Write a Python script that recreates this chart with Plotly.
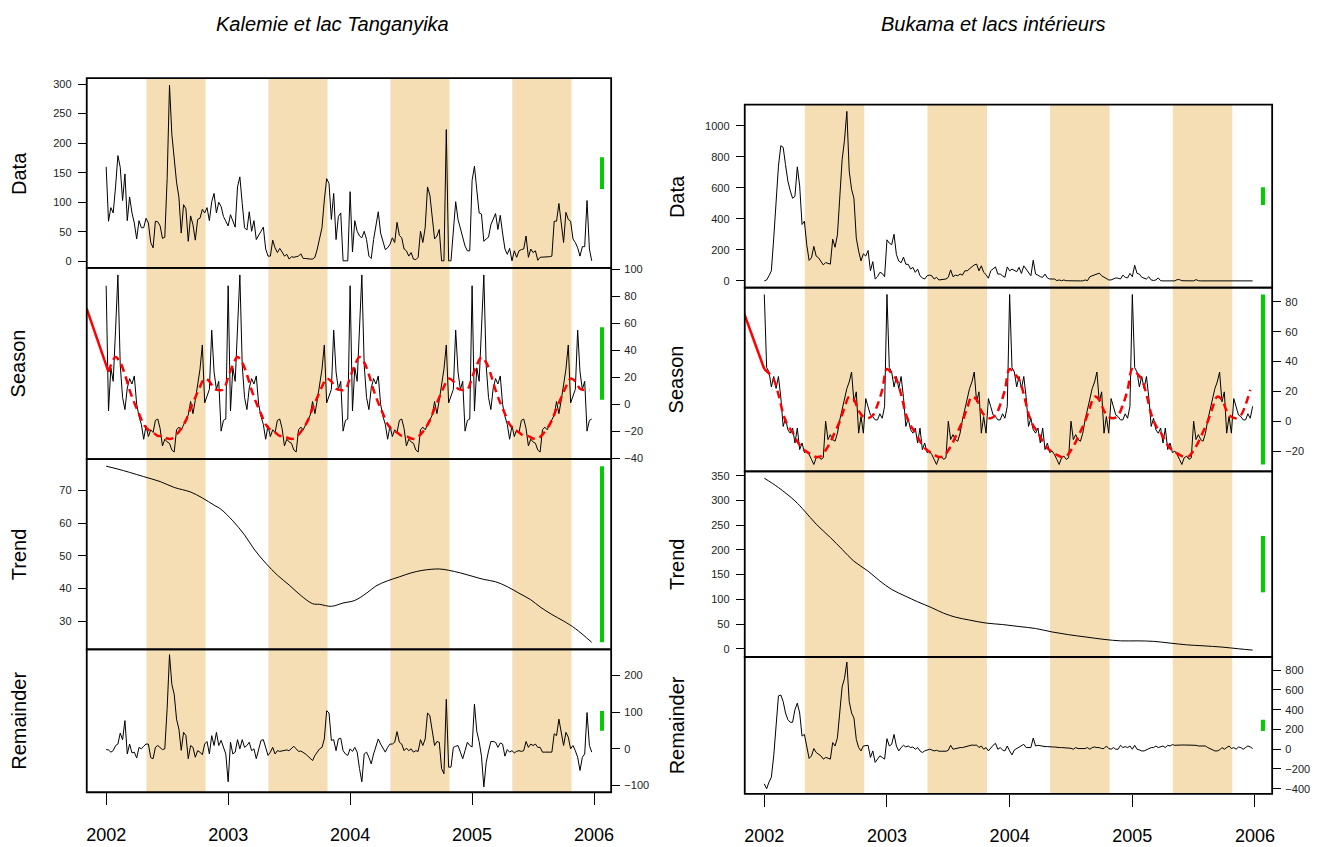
import plotly.graph_objects as go

# ---------------- time base ----------------
START_YEAR = 2002
WEEKS_PER_YEAR = 52
year_ticks = [2002, 2003, 2004, 2005, 2006]
dry_years = [2002, 2003, 2004, 2005]
dry_start_frac = 0.33    # start of dry season (fraction of year)
dry_end_frac = 0.815     # end of dry season (fraction of year)

# ---------------- Kalemie et lac Tanganyika ----------------
kal_title = "Kalemie et lac Tanganyika"
kal_data = [
    160, 68, 91, 82, 126, 179, 159, 103, 148, 69,
    109, 82, 65, 38, 69, 57, 57, 73, 65, 32,
    23, 68, 67, 60, 39, 41, 140, 298, 215, 176,
    134, 109, 48, 96, 89, 34, 77, 62, 36, 71,
    73, 88, 82, 91, 69, 101, 115, 82, 100, 93,
    76, 68, 60, 79, 69, 58, 126, 143, 98, 57,
    53, 84, 51, 69, 37, 43, 51, 58, 21, 9,
    9, 36, 23, 15, 22, 16, 9, 12, 4, 8,
    7, 8, 9, 13, 5, 5, 4, 4, 4, 7,
    21, 37, 57, 104, 140, 132, 71, 115, 37, 76,
    82, 1, 1, 1, 118, 16, 69, 51, 43, 40,
    51, 37, 9, 5, 37, 62, 84, 48, 34, 20,
    23, 29, 40, 32, 66, 44, 40, 21, 18, 9,
    15, 4, 3, 7, 51, 32, 57, 126, 112, 71,
    38, 43, 54, 1, 1, 223, 1, 1, 60, 101,
    71, 57, 43, 26, 18, 18, 137, 161, 121, 82,
    80, 34, 38, 41, 62, 71, 81, 54, 78, 48,
    21, 12, 22, 1, 18, 7, 18, 20, 21, 43,
    7, 21, 15, 18, 2, 7, 7, 8, 8, 8,
    9, 68, 68, 98, 65, 32, 83, 71, 68, 38,
    32, 23, 9, 25, 25, 103, 21, 1,
]
# seasonal component, one value per week of the year (periodic)
kal_season_week = [
    88, -5, 27, 17, 55, 96, 29, 5, -4, 12,
    19, 15, 21, 0, -9, -15, -26, -16, -24, -19,
    -21, -12, -11, -18, -31, -26, -28, -29, -34, -35.5,
    -19, -17, -19, -15, -11, -8, 2, -7, 3, 13,
    26, 44, 1, 6, 11, 55, 24, 11, 17, -20,
    -12, -11,
]
# smoothed seasonal (red dashed), every second week of the year
kal_smooth_week = [20, 29, 35, 31, 22, 10.5, 1, -7, -15, -19, -21, -23.5, -23.7,
                   -25.5, -25.5, -22.5, -18, -12, -3, 5, 13, 19, 17, 11.5, 10.5, 11]
kal_smooth_lead_weeks = [-8.3, 1]
kal_smooth_lead = [71, 24]
kal_trend_weeks = [0, 5, 10, 16, 23, 29, 36, 41, 46, 49, 54, 59, 63, 68, 73, 78, 83, 88,
                   91, 96, 101, 106, 111, 115, 120, 125, 130, 135, 142, 146, 151, 156,
                   161, 166, 171, 176, 181, 185, 190, 195, 200, 207]
kal_trend = [77.4, 76.5, 75.5, 74.2, 72.7, 70.9, 69.5, 67.7, 65.5, 64.2, 60.7, 56.4,
             52.1, 47.8, 44.1, 41.1, 37.9, 35.4, 35.2, 34.6, 35.6, 36.4, 38.6, 40.8,
             42.4, 43.6, 44.8, 45.6, 46, 45.6, 44.8, 43.8, 42.8, 42.1, 40.6, 38.6,
             36.6, 34.4, 32.1, 30.1, 27.8, 23.6]
kal_remainder = [
    -2, -3, -9, -5, 9, 13, 43, 25, 77, -14,
    13, -11, -9, -25, 4, 0, 7, 13, 13, -24,
    -27, 4, 9, 2, -2, 0, 110, 257, 176, 149,
    81, 54, -4, 45, 36, -27, 9, 4, -23, -5,
    -9, -16, 13, 20, -14, 36, 9, 45, 9, 23,
    4, -14, -90, 18, -14, -9, 25, 0, 25, 4,
    9, 18, -5, 0, -27, 0, 23, 25, 0, -18,
    -9, 4, -14, -5, -7, -5, -5, -3, -5, 0,
    7, 0, -7, -6, -9, -14, -20, -25, -32, -18,
    -9, 0, 4, 27, 104, 98, 23, 25, -5, 27,
    29, -5, -14, -18, 0, -7, 4, -9, -54, -90,
    -14, -9, -23, -41, -14, 4, 27, 13, 0, -9,
    4, 13, 13, 18, 47, 18, 13, -5, 2, -5,
    0, -9, -5, -7, 25, 9, 27, 98, 90, 45,
    9, 20, 18, -54, -68, 135, -50, -50, 4, 7,
    9, -9, -27, -5, 18, 9, 5, 122, 48, 20,
    -20, -104, -38, -6, 20, 20, 18, 4, 16, 13,
    -20, -2, -9, -5, -11, -7, -5, -7, -5, 20,
    4, 13, 9, 13, 4, 4, -9, -9, -9, -9,
    -9, 41, 36, 81, 45, 9, 45, 32, 0, 9,
    -5, -23, -59, -23, -14, 99, 9, -9,
]

# ---------------- Bukama et lacs interieurs ----------------
buk_title = "Bukama et lacs intérieurs"
buk_data = [
    0, 6, 33, 65, 276, 508, 740, 873, 862, 750,
    645, 582, 533, 546, 736, 613, 364, 385, 233, 132,
    149, 223, 160, 149, 124, 103, 118, 112, 108, 269,
    217, 297, 571, 782, 908, 1094, 708, 592, 533, 276,
    192, 129, 175, 160, 196, 65, 124, 12, 27, 55,
    48, 27, 265, 244, 233, 301, 170, 128, 117, 153,
    107, 107, 76, 87, 55, 76, 33, 19, 12, 33,
    37, 33, 12, 23, 6, 8, 12, 12, 23, 71,
    27, 37, 33, 44, 37, 65, 65, 76, 90, 103,
    108, 65, 97, 55, 40, 17, 65, 76, 90, 44,
    44, 33, 23, 90, 65, 76, 65, 59, 87, 48,
    97, 76, 55, 33, 133, 44, 37, 27, 23, 44,
    19, 12, 12, 12, 2, 6, 1, 6, 1, 0,
    0, 0, 0, 0, 0, 0, 6, 1, 27, 33,
    37, 44, 50, 33, 23, 12, 6, 6, 12, 19,
    17, 12, 37, 23, 19, 48, 27, 101, 48, 44,
    23, 19, 12, 27, 6, 2, 6, 19, 1, 0,
    0, 0, 0, 0, 0, 8, 8, 1, 0, 0,
    0, 0, 0, 8, 1, 0, 0, 0, 0, 0,
    0, 0, 0, 0, 0, 0, 0, 0, 0, 0,
    0, 0, 0, 0, 0, 0, 0, 0,
]
buk_season_week = [
    85, 36, 33, 23, 30, 22, 30, 16, -3.5, 2,
    -5.7, -8, -4.6, -14.6, -4.6, -19, -14.6, -21, -20, -22.3,
    -25.6, -29, -24.5, -23.4, -25.6, -24.5, 0, -12.3, -9, -12.3,
    -13.4, -8, 0.9, 8.6, 15.2, 21.9, 26.3, 33, 13, 19.7,
    -8, 3.1, -8, 15.2, 9.7, 4.2, 3.1, 0.9, 0.9, 5,
    2, 10,
]
buk_smooth_week = [35, 32, 28, 18, 5, -3, -7.5, -13.5, -18, -20.5, -22.5, -24, -23.5,
                   -19.5, -14, -7, 0, 9, 16.5, 14.5, 7, 3, 2, 4, 11, 21]
buk_smooth_lead_weeks = [-8.7, 0]
buk_smooth_lead = [73, 35]
buk_trend_weeks = [0, 6, 13, 17, 22, 28, 33, 38, 44, 49, 54, 60, 65, 71, 76, 81, 87, 94,
                   101, 108, 115, 122, 129, 136, 144, 151, 158, 165, 172, 179, 186, 194,
                   201, 207]
buk_trend = [345, 326, 299, 279, 252, 225, 201, 177, 157, 137, 120, 106, 95, 83, 72, 64,
             58, 52, 49, 45, 41, 34, 28.5, 24, 19, 16, 16, 15, 11.5, 8, 6, 3.4, 0, -2.7]
buk_remainder = [
    -350, -400, -333, -283, -67, 233, 540, 550, 483, 367,
    300, 273, 273, 400, 467, 367, 133, 150, 33, -93,
    -67, 7, -33, -50, -67, -100, -83, -90, -100, 67,
    33, 117, 400, 633, 717, 883, 483, 367, 317, 100,
    17, -17, 33, 33, 40, -83, -17, -133, -100, -67,
    -83, -100, 107, 33, 50, 150, 33, -17, 17, 40,
    23, 33, 17, 23, 0, 17, -17, -33, -17, -7,
    0, -7, -17, -10, -20, -20, -20, -20, -10, 40,
    0, 7, 7, 17, 17, 23, 33, 33, 43, 40,
    43, 17, 33, 0, 17, -17, 17, 40, 60, 0,
    17, -7, -17, 33, -17, -57, -7, 7, 17, 33,
    50, 17, 17, 17, 113, 33, 40, 33, 33, 27,
    27, 23, 23, 23, 17, 17, 17, 17, 17, 17,
    10, 0, 17, 7, 7, 7, 7, 17, 0, 17,
    23, 17, 17, 7, 7, 33, 7, 0, 17, 0,
    0, 40, 17, 27, 17, 33, 0, 40, 0, -7,
    -17, -17, -7, 7, 17, 17, 33, 17, 23, 33,
    17, 40, 33, 47, 40, 43, 43, 43, 43, 43,
    43, 43, 43, 40, 33, 33, 33, 33, 17, 7,
    -7, -17, -17, -7, 17, 0, 17, 33, 7, 17,
    0, 23, 17, 0, 17, 33, 23, 7,
]

# ---------------- styling ----------------
FONT = "Liberation Sans, Arial, sans-serif"
BAND_COLOR = "#F5DEB3"
BAR_COLOR = "#00CD00"
W, H = 1328, 847

# pixel layout of the two columns
col_x = [(86, 612), (746, 1275)]
col_panels = [
    [(75, 266.7), (266.7, 460), (460, 652.3), (652.3, 796.7)],
    [(101.7, 286.7), (286.7, 472.3), (472.3, 660), (660, 798.3)],
]
panel_names = ["Data", "Season", "Trend", "Remainder"]
panel_side = ["left", "right", "left", "right"]
title_x = [333, 995]
ylabel_x = [18, 678]
dticks = [[50, 20, 10, 100], [200, 20, 50, 200]]
bar_x_year = 2006.065


def t_of(week):
    return START_YEAR + week / WEEKS_PER_YEAR


sites = [
    dict(title=kal_title, data=kal_data, season=kal_season_week, smooth=kal_smooth_week,
         lead_w=kal_smooth_lead_weeks, lead=kal_smooth_lead, tw=kal_trend_weeks,
         trend=kal_trend, rem=kal_remainder),
    dict(title=buk_title, data=buk_data, season=buk_season_week, smooth=buk_smooth_week,
         lead_w=buk_smooth_lead_weeks, lead=buk_smooth_lead, tw=buk_trend_weeks,
         trend=buk_trend, rem=buk_remainder),
]

fig = go.Figure()
layout = {}
shapes = []
frames = []
annotations = []

for c, s in enumerate(sites):
    n = len(s["data"])
    t = [t_of(i) for i in range(n)]
    span = t[-1] - t[0]
    xr = [t[0] - 0.04 * span, t[-1] + 0.04 * span]
    season = [s["season"][i % WEEKS_PER_YEAR] for i in range(n)]
    # smoothed seasonal: lead-in segment then dashed curve
    first_w = s["lead_w"][-1]
    sm_x = [t_of(first_w)]
    sm_y = [s["lead"][-1]]
    for i in range(0, n, 2):
        if i > first_w:
            sm_x.append(t_of(i))
            sm_y.append(s["smooth"][(i % WEEKS_PER_YEAR) // 2])
    trend_t = [t_of(w) for w in s["tw"]]
    comps = [s["data"], season, s["trend"], s["rem"]]
    ranges = [(min(v), max(v)) for v in comps]
    bar_len = min(hi - lo for lo, hi in ranges)

    for p in range(4):
        k = c * 4 + p + 1
        xa = "x" if k == 1 else f"x{k}"
        ya = "y" if k == 1 else f"y{k}"
        lo, hi = ranges[p]
        r = hi - lo
        yr = [lo - 0.04 * r, hi + 0.04 * r]
        py0, py1 = col_panels[c][p]
        ydom = [1 - py1 / H, 1 - py0 / H]
        xdom = [col_x[c][0] / W, col_x[c][1] / W]
        bottom = p == 3

        layout["xaxis" if k == 1 else f"xaxis{k}"] = dict(
            domain=xdom, anchor=ya, range=xr, showgrid=False, zeroline=False,
            showline=False,
            ticks="outside" if bottom else "", ticklen=12, tickwidth=1.2,
            tickcolor="black", tickvals=year_ticks,
            ticktext=[str(y) for y in year_ticks], showticklabels=bottom,
            tickfont=dict(family=FONT, size=18, color="black"),
            ticklabelstandoff=14,
        )
        layout["yaxis" if k == 1 else f"yaxis{k}"] = dict(
            domain=ydom, anchor=xa, range=yr, side=panel_side[p], showgrid=False,
            zeroline=False, showline=False,
            ticks="outside", ticklen=8, tickwidth=1, tickcolor="black",
            dtick=dticks[c][p], tick0=0,
            tickfont=dict(family=FONT, size=11, color="#222"),
            ticklabelstandoff=4 if panel_side[p] == "left" else 2,
        )

        # dry-season bands
        for yy in dry_years:
            shapes.append(dict(
                type="rect", xref=xa, yref=f"{ya} domain",
                x0=yy + dry_start_frac, x1=yy + dry_end_frac, y0=0, y1=1,
                fillcolor=BAND_COLOR, line=dict(width=0), layer="below",
            ))
        # panel frame
        frames.append(dict(
            type="rect", xref="paper", yref="paper",
            x0=xdom[0], x1=xdom[1], y0=ydom[0], y1=ydom[1],
            line=dict(color="black", width=1.8), fillcolor="rgba(0,0,0,0)",
            layer="above",
        ))

        # component line(s)
        if p == 2:
            fig.add_trace(go.Scatter(x=trend_t, y=s["trend"], mode="lines",
                                     line=dict(color="black", width=1, shape="spline"),
                                     xaxis=xa, yaxis=ya, showlegend=False))
        else:
            fig.add_trace(go.Scatter(x=t, y=comps[p], mode="lines",
                                     line=dict(color="black", width=1),
                                     xaxis=xa, yaxis=ya, showlegend=False))
        if p == 1:
            fig.add_trace(go.Scatter(x=[t_of(w) for w in s["lead_w"]], y=s["lead"],
                                     mode="lines", line=dict(color="red", width=2.5),
                                     xaxis=xa, yaxis=ya, showlegend=False))
            fig.add_trace(go.Scatter(x=sm_x, y=sm_y, mode="lines",
                                     line=dict(color="red", width=2.5, dash="8px,5px",
                                               shape="spline"),
                                     xaxis=xa, yaxis=ya, showlegend=False))

        # range bar (same data length in every panel)
        mid = (lo + hi) / 2
        fig.add_trace(go.Scatter(x=[bar_x_year, bar_x_year],
                                 y=[mid - bar_len / 2, mid + bar_len / 2], mode="lines",
                                 line=dict(color=BAR_COLOR, width=4),
                                 xaxis=xa, yaxis=ya, showlegend=False, cliponaxis=False))

        annotations.append(dict(
            text=panel_names[p], x=ylabel_x[c] / W, y=1 - (py0 + py1) / 2 / H,
            xref="paper", yref="paper", showarrow=False, textangle=-90,
            font=dict(family=FONT, size=20, color="black"),
            xanchor="center", yanchor="middle",
        ))

    annotations.append(dict(
        text=f"<i>{s['title']}</i>", x=title_x[c] / W, y=1 - 20 / H, xref="paper",
        yref="paper", showarrow=False, font=dict(family=FONT, size=20, color="black"),
        xanchor="center", yanchor="middle",
    ))

fig.update_layout(
    width=W, height=H, margin=dict(l=0, r=0, t=0, b=0),
    paper_bgcolor="white", plot_bgcolor="white",
    shapes=shapes + frames, annotations=annotations, showlegend=False,
    **layout,
)

fig.write_html("out.html")
